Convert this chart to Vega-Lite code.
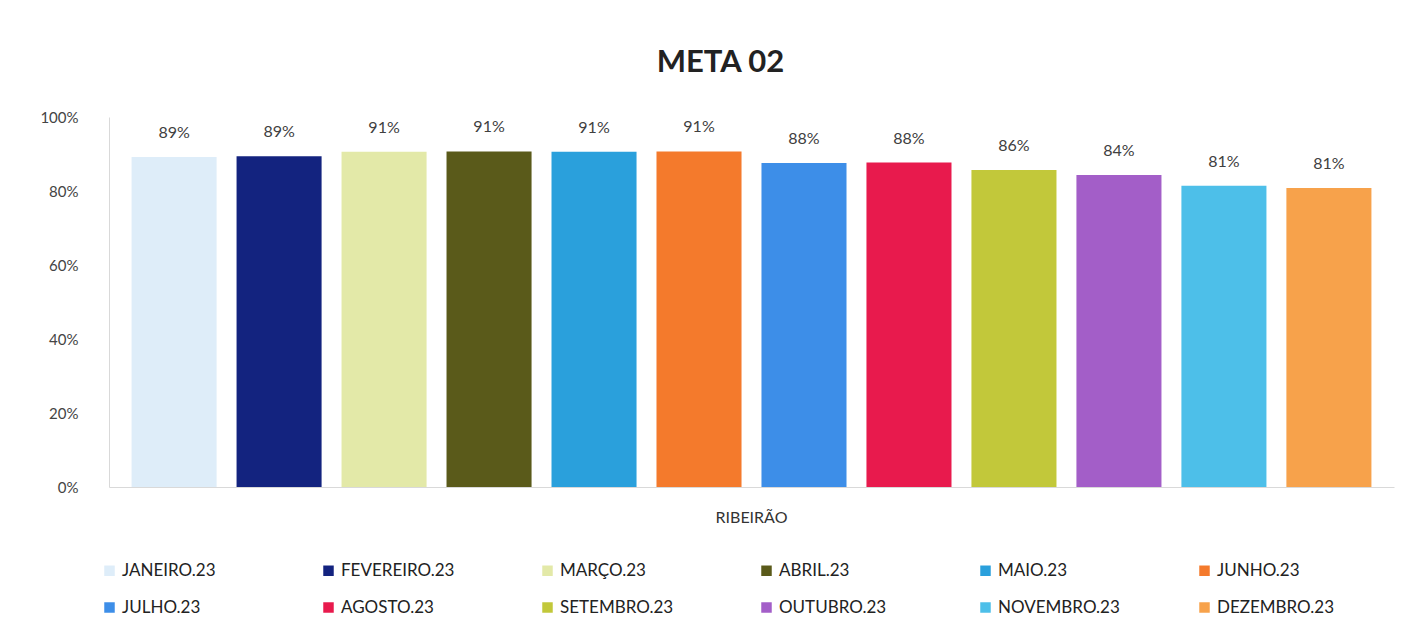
{
  "$schema": "https://vega.github.io/schema/vega-lite/v6.json",
  "width": 1285,
  "height": 370,
  "autosize": {"type": "none"},
  "padding": {"left": 109, "top": 117, "right": 25, "bottom": 150},
  "background": "#ffffff",
  "title": {"text": "META 02", "fontSize": 31, "font": "Lato", "fontWeight": "bold", "color": "#222222", "offset": 31, "dx": -31},
  "config": {"view": {"stroke": null}, "font": "Lato"},
  "data": {"values": [
    {"local": "RIBEIRÃO", "mes": "JANEIRO.23", "valor": 0.892},
    {"local": "RIBEIRÃO", "mes": "FEVEREIRO.23", "valor": 0.894},
    {"local": "RIBEIRÃO", "mes": "MARÇO.23", "valor": 0.906},
    {"local": "RIBEIRÃO", "mes": "ABRIL.23", "valor": 0.907},
    {"local": "RIBEIRÃO", "mes": "MAIO.23", "valor": 0.906},
    {"local": "RIBEIRÃO", "mes": "JUNHO.23", "valor": 0.907},
    {"local": "RIBEIRÃO", "mes": "JULHO.23", "valor": 0.876},
    {"local": "RIBEIRÃO", "mes": "AGOSTO.23", "valor": 0.877},
    {"local": "RIBEIRÃO", "mes": "SETEMBRO.23", "valor": 0.857},
    {"local": "RIBEIRÃO", "mes": "OUTUBRO.23", "valor": 0.843},
    {"local": "RIBEIRÃO", "mes": "NOVEMBRO.23", "valor": 0.814},
    {"local": "RIBEIRÃO", "mes": "DEZEMBRO.23", "valor": 0.808}
  ]},
  "encoding": {
    "x": {"field": "local", "type": "nominal", "scale": {"paddingInner": 0, "paddingOuter": 0.01},
      "axis": {"title": null, "labelAngle": 0, "ticks": false, "labelPadding": 22, "labelFontSize": 16, "labelColor": "#333333", "labelFont": "Lato", "domainColor": "#d9d9d9"}},
    "xOffset": {"field": "mes", "type": "nominal",
      "sort": ["JANEIRO.23", "FEVEREIRO.23", "MARÇO.23", "ABRIL.23", "MAIO.23", "JUNHO.23", "JULHO.23", "AGOSTO.23", "SETEMBRO.23", "OUTUBRO.23", "NOVEMBRO.23", "DEZEMBRO.23"],
      "scale": {"paddingInner": 0.19, "paddingOuter": 0.095}},
    "y": {"field": "valor", "type": "quantitative", "scale": {"domain": [0, 1]},
      "axis": {"title": null, "format": ".0%", "values": [0, 0.2, 0.4, 0.6, 0.8, 1], "grid": false, "ticks": false, "labelPadding": 31, "labelFontSize": 15, "labelColor": "#444444", "domainColor": "#d9d9d9"}}
  },
  "layer": [
    {"mark": {"type": "bar"},
     "encoding": {"color": {"field": "mes", "type": "nominal",
       "sort": ["JANEIRO.23", "FEVEREIRO.23", "MARÇO.23", "ABRIL.23", "MAIO.23", "JUNHO.23", "JULHO.23", "AGOSTO.23", "SETEMBRO.23", "OUTUBRO.23", "NOVEMBRO.23", "DEZEMBRO.23"],
       "scale": {"domain": ["JANEIRO.23", "FEVEREIRO.23", "MARÇO.23", "ABRIL.23", "MAIO.23", "JUNHO.23", "JULHO.23", "AGOSTO.23", "SETEMBRO.23", "OUTUBRO.23", "NOVEMBRO.23", "DEZEMBRO.23"],
         "range": ["#deedf9", "#13237f", "#e3e9a8", "#5a5a1a", "#2aa0dc", "#f47a2c", "#3d8ee8", "#e81a4d", "#c2c83a", "#a35ec8", "#4dbfe9", "#f7a24b"]},
       "legend": {"title": null, "orient": "none", "legendX": -8, "legendY": 445, "direction": "horizontal", "columns": 6, "gridAlign": "all", "columnPadding": 76, "rowPadding": 19, "symbolType": "square", "symbolSize": 110, "symbolStrokeWidth": 0, "labelFontSize": 17, "labelFont": "Lato", "labelColor": "#222222", "labelOffset": 4, "labelLimit": 300}}}},
    {"mark": {"type": "text", "dy": -24, "fontSize": 16, "font": "Lato", "color": "#404040"},
     "encoding": {"text": {"field": "valor", "type": "quantitative", "format": ".0%"}}}
  ]
}
